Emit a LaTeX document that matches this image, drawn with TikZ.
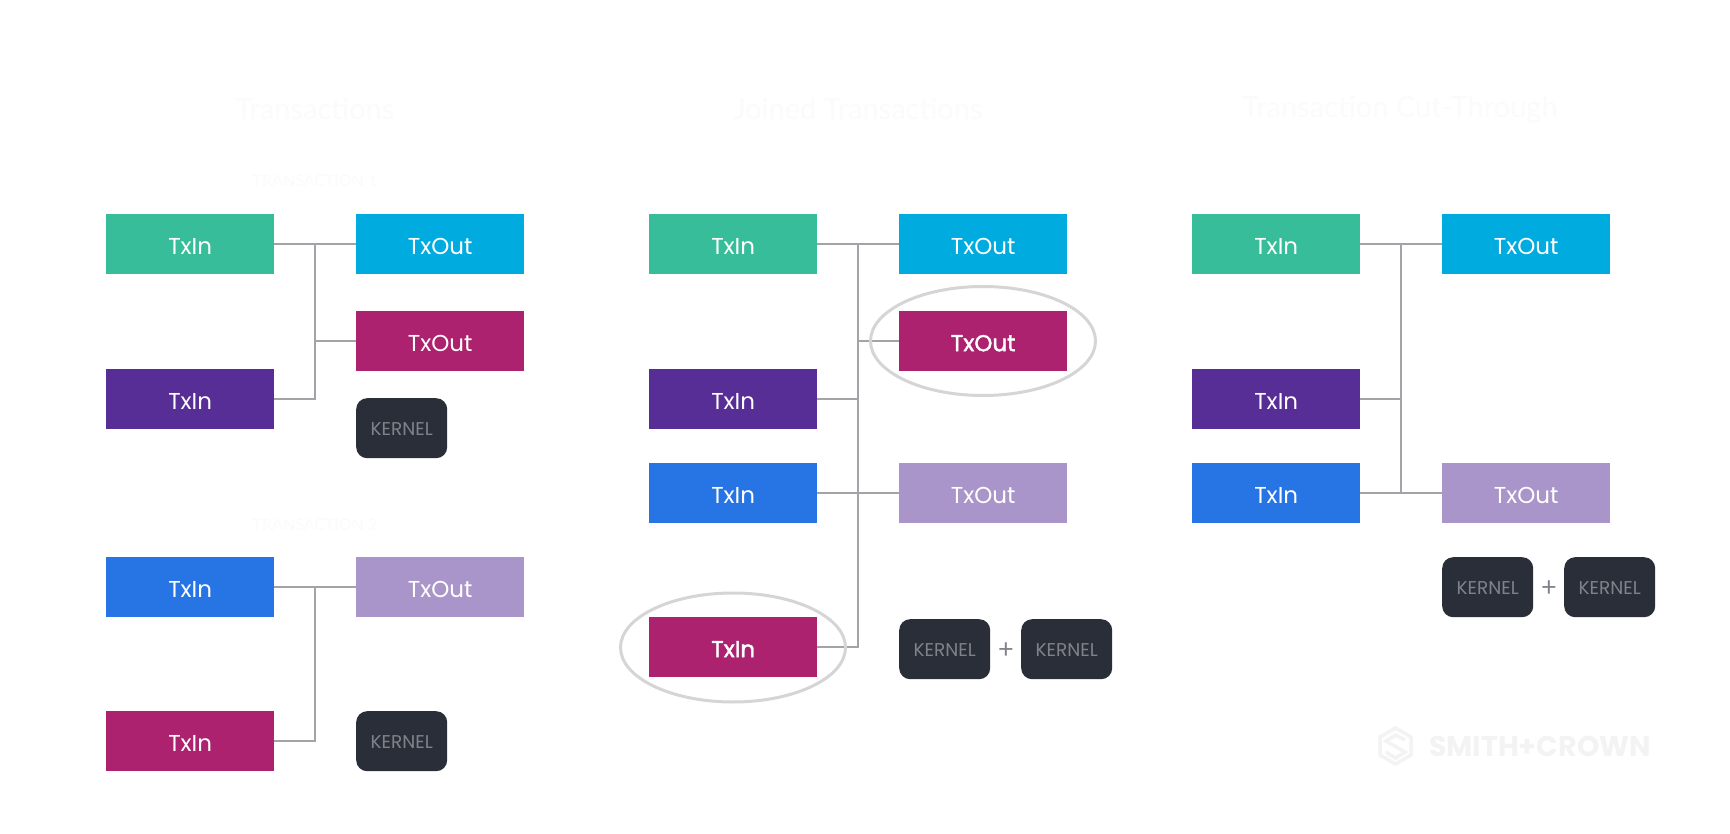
\documentclass[tikz,border=0pt]{standalone}
\usetikzlibrary{shapes.geometric}
\usepackage{fontspec}
\setmainfont{Poppins}
\newfontfamily\titlefont{Lato}
\definecolor{cgreen}{HTML}{38BD9B}
\definecolor{ccyan}{HTML}{00ABE0}
\definecolor{cpurple}{HTML}{572D96}
\definecolor{cmag}{HTML}{AD226E}
\definecolor{cblue}{HTML}{2775E5}
\definecolor{clilac}{HTML}{AA95CA}
\definecolor{ckern}{HTML}{2A2E38}
\definecolor{ckerntext}{HTML}{80828A}
\definecolor{cline}{HTML}{A4A4A8}
\definecolor{cring}{HTML}{D5D5D5}
\definecolor{cfaint}{HTML}{FBFBFB}
\definecolor{clogo}{HTML}{F3F3F3}
\tikzset{
  x=1pt,y=-1pt,
  tx/.style={draw=none,fill=#1,text=white,minimum width=168pt,minimum height=60pt,inner sep=0pt,text height=20pt,text depth=0pt,font=\fontsize{23}{24}\selectfont,anchor=north west},
  kern/.style={fill=ckern,text=ckerntext,rounded corners=11pt,minimum width=91pt,minimum height=60pt,inner sep=0pt,text height=14pt,text depth=0pt,font=\fontsize{18.5}{20}\selectfont,anchor=north west},
  conn/.style={draw=cline,line width=2pt},
  ring/.style={draw=cring,line width=3pt},
  plus/.style={text=ckerntext,inner sep=0pt,font=\titlefont\fontsize{27}{28}\selectfont},
  title/.style={text=cfaint,inner sep=0pt,font=\titlefont\fontsize{29}{32}\selectfont},
  sub/.style={text=cfaint,inner sep=0pt,font=\titlefont\fontsize{16}{18}\selectfont},
  bolder/.style={font=\fontsize{23}{24}\selectfont\addfontfeatures{FakeBold=1.6}},
}
\begin{document}
\begin{tikzpicture}
\useasboundingbox[fill=white] (0,0) rectangle (1730,834);
% faint titles
\node[title] (t1) at (315,109) {Transactions};
\node[title] (t2) at (858,109) {Joined Transactions};
\node[title] (t3) at (1400,109) {Transaction Cut-Through};
\node[sub] (s1) at (315,181) {TRANSACTION 1};
\node[sub] (s2) at (315,525) {TRANSACTION 2};
% column 1
\node[tx=cgreen] (a1) at (106,214) {TxIn};
\node[tx=ccyan] (b1) at (356,214) {TxOut};
\node[tx=cmag] (b2) at (356,311) {TxOut};
\node[tx=cpurple] (a2) at (106,369) {TxIn};
\node[kern] (k1) at (356,398) {KERNEL};
\node[tx=cblue] (a3) at (106,557) {TxIn};
\node[tx=clilac] (b3) at (356,557) {TxOut};
\node[tx=cmag] (a4) at (106,711) {TxIn};
\node[kern] (k2) at (356,711) {KERNEL};
\coordinate (ja) at (315,244);
\coordinate (jb) at (315,587);
\draw[conn] (a1.east) -- (b1.west);
\draw[conn] (b2.west) -| (ja);
\draw[conn] (a2.east) -| (ja);
\draw[conn] (a3.east) -- (b3.west);
\draw[conn] (a4.east) -| (jb);
% column 2
\node[tx=cgreen] (c1) at (649,214) {TxIn};
\node[tx=ccyan] (d1) at (899,214) {TxOut};
\node[tx=cmag,bolder] (d2) at (899,311) {TxOut};
\node[tx=cpurple] (c2) at (649,369) {TxIn};
\node[tx=cblue] (c3) at (649,463) {TxIn};
\node[tx=clilac] (d3) at (899,463) {TxOut};
\node[tx=cmag,bolder] (c4) at (649,617) {TxIn};
\node[kern] (k3) at (899,619) {KERNEL};
\node[kern] (k4) at (1021,619) {KERNEL};
\node[plus] (p1) at (1006,651) {+};
\coordinate (jc) at (858,244);
\draw[conn] (c1.east) -- (d1.west);
\draw[conn] (d2.west) -| (jc);
\draw[conn] (c2.east) -| (jc);
\draw[conn] (c3.east) -- (d3.west);
\draw[conn] (c4.east) -| (jc);
\node[ring,ellipse,minimum width=225pt,minimum height=109pt,inner sep=0pt] (r1) at (983,341) {};
\node[ring,ellipse,minimum width=225pt,minimum height=109pt,inner sep=0pt] (r2) at (733,647.5) {};
% column 3
\node[tx=cgreen] (e1) at (1192,214) {TxIn};
\node[tx=ccyan] (f1) at (1442,214) {TxOut};
\node[tx=cpurple] (e2) at (1192,369) {TxIn};
\node[tx=cblue] (e3) at (1192,463) {TxIn};
\node[tx=clilac] (f3) at (1442,463) {TxOut};
\node[kern] (k5) at (1442,557) {KERNEL};
\node[kern] (k6) at (1564,557) {KERNEL};
\node[plus] (p2) at (1549,589) {+};
\coordinate (je) at (1401,244);
\draw[conn] (e1.east) -- (f1.west);
\draw[conn] (e2.east) -| (je);
\draw[conn] (e3.east) -- (f3.west);
\draw[conn] (e3.east) -| (je);
% logo
\node[text=clogo,inner sep=0pt,anchor=west,font=\fontsize{28.5}{30}\selectfont\bfseries] (lg) at (1429,746) {SMITH+CROWN};
\draw[clogo,line width=3.5pt,line join=miter] (1395.5,728) -- (1411,737) -- (1411,755) -- (1395.5,764) -- (1380,755) -- (1380,737) -- cycle;
\draw[clogo,line width=3.5pt] (1405,740) -- (1395.5,735) -- (1386,741) -- (1405,752) -- (1395.5,758) -- (1386,752);
\end{tikzpicture}
\end{document}
